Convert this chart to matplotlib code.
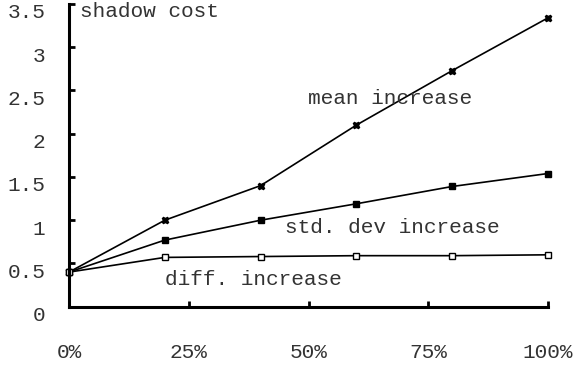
import matplotlib
matplotlib.use("Agg")
import matplotlib.pyplot as plt
from matplotlib.transforms import ScaledTranslation

x = [0, 0.2, 0.4, 0.6, 0.8, 1.0]
mean_inc = [0.40, 1.00, 1.40, 2.10, 2.73, 3.34]
std_inc = [0.40, 0.77, 1.00, 1.19, 1.39, 1.54]
diff_inc = [0.40, 0.57, 0.58, 0.59, 0.59, 0.60]
xticks = [0, 0.25, 0.5, 0.75, 1.0]
xticklabels = ["0%", "25%", "50%", "75%", "100%"]
yticks = [0, 0.5, 1, 1.5, 2, 2.5, 3, 3.5]
yticklabels = ["0", "0.5", "1", "1.5", "2", "2.5", "3", "3.5"]

plt.rcParams['font.family'] = ['Liberation Mono', 'DejaVu Sans Mono']
fs = 15.2
tc = '#333333'

fig = plt.figure(figsize=(5.74, 3.66), dpi=100)
ax = fig.add_axes([69/574, 1 - 306.7/366, (548-69)/574, (306.7-4)/366])

ax.plot(x, mean_inc, color='black', lw=1.2, marker='X', ms=4.5, mfc='black', mec='black', clip_on=False)
ax.plot(x, std_inc, color='black', lw=1.2, marker='s', ms=5, mfc='black', mec='black', clip_on=False)
ax.plot(x, diff_inc, color='black', lw=1.2, marker='s', ms=4, mfc='white', mec='black', mew=1, clip_on=False)

ax.set_xlim(0, 1)
ax.set_ylim(0, 3.5)
ax.set_xticks(xticks)
ax.set_xticklabels(xticklabels)
ax.set_yticks(yticks)
ax.set_yticklabels(yticklabels)
for s in ['top', 'right']:
    ax.spines[s].set_visible(False)
for s in ['left', 'bottom']:
    ax.spines[s].set_linewidth(2.2)
ax.tick_params(axis='both', direction='in', length=4, width=2, labelsize=fs, labelcolor=tc)
ax.tick_params(axis='y', pad=17)
ax.tick_params(axis='x', pad=26)

off = ScaledTranslation(0, -7/100, fig.dpi_scale_trans)
for lab in ax.get_yticklabels():
    lab.set_transform(lab.get_transform() + off)

ax.text(0.022, 3.41, "shadow cost", fontsize=fs, color=tc, va='center', ha='left', transform=ax.get_yaxis_transform())
ax.text(0.670, 2.41, "mean increase", fontsize=fs, color=tc, ha='center', va='center')
ax.text(0.674, 0.91, "std. dev increase", fontsize=fs, color=tc, ha='center', va='center')
ax.text(0.385, 0.32, "diff. increase", fontsize=fs, color=tc, ha='center', va='center')

fig.savefig("out.png", dpi=100)
